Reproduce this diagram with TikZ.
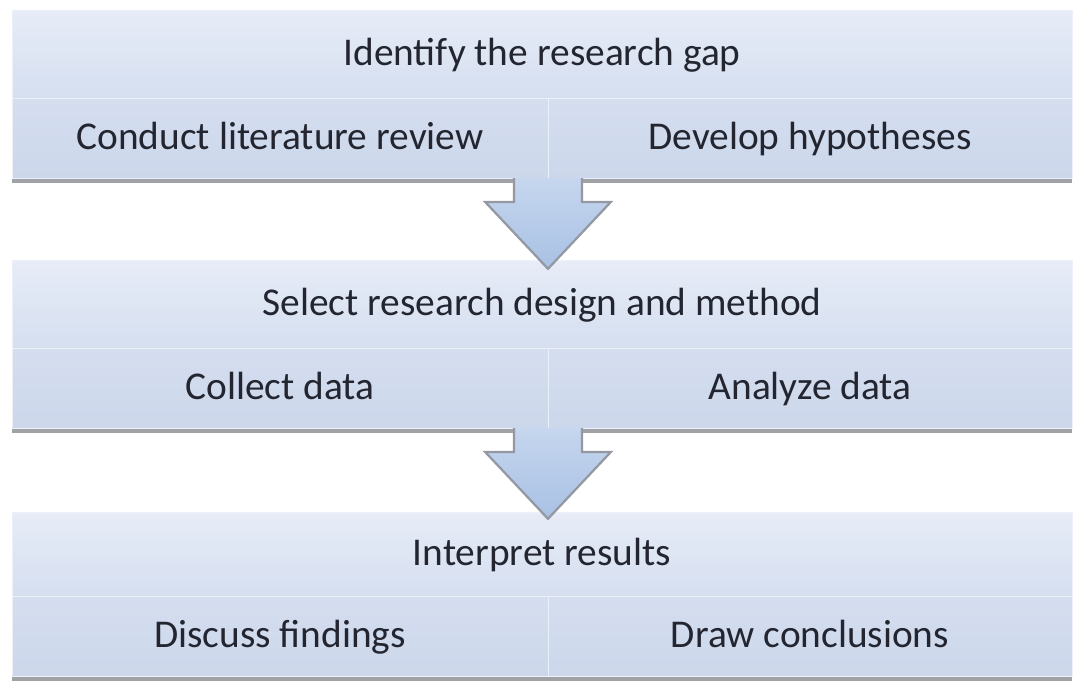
\documentclass[tikz,border=0pt]{standalone}
\usepackage{fontspec}
\setmainfont{Carlito}
\usetikzlibrary{positioning,calc,shadows}
\definecolor{rpTop}{RGB}{231,236,247}
\definecolor{rpMid}{RGB}{213,223,240}
\definecolor{rpSubTop}{RGB}{212,222,239}
\definecolor{rpSubBot}{RGB}{204,215,235}
\definecolor{rpEdge}{RGB}{236,240,248}
\definecolor{rpText}{RGB}{35,38,48}
\definecolor{rpShadow}{RGB}{150,152,156}
\definecolor{rpArrowTop}{RGB}{198,214,238}
\definecolor{rpArrowBot}{RGB}{168,193,228}
\definecolor{rpArrowEdge}{RGB}{148,152,162}
\newcommand\stagefont{\fontsize{28}{34}\selectfont}

\begin{document}
\begin{tikzpicture}[
    stage/.style={rectangle, draw=rpEdge, line width=0.6pt, top color=rpTop, bottom color=rpMid, text=rpText, font=\stagefont, text height=21pt, text depth=4pt, inner sep=0pt, outer sep=0pt, minimum width=26.5cm, minimum height=2.2cm},
    task/.style={rectangle, draw=rpEdge, line width=0.6pt, top color=rpSubTop, bottom color=rpSubBot, text=rpText, font=\stagefont, text height=21pt, text depth=4pt, inner sep=0pt, outer sep=0pt, minimum height=2cm, drop shadow={shadow xshift=0pt, shadow yshift=-3.5pt, fill=rpShadow, opacity=0.9}},
    flow/.style={draw=rpArrowEdge, line width=1.6pt, line join=miter, top color=rpArrowTop, bottom color=rpArrowBot}
]
  \useasboundingbox (0,0) rectangle (27.025,-17);

  % stage 1
  \node[stage, anchor=north west] (gap) at (0.3,-0.25) {Identify the research gap};
  \node[task, minimum width=13.4cm, anchor=north west] (review) at (gap.south west) {Conduct literature review};
  \node[task, minimum width=13.1cm, anchor=north west] (hypo) at (review.north east) {Develop hypotheses};

  % stage 2
  \node[stage, below=2.05cm of review.south west, anchor=north west] (design) {Select research design and method};
  \node[task, minimum width=13.4cm, anchor=north west] (collect) at (design.south west) {Collect data};
  \node[task, minimum width=13.1cm, anchor=north west] (analyze) at (collect.north east) {Analyze data};

  % stage 3
  \node[stage, minimum height=2.1cm, below=2.1cm of collect.south west, anchor=north west] (interpret) {Interpret results};
  \node[task, minimum width=13.4cm, anchor=north west] (discuss) at (interpret.south west) {Discuss findings};
  \node[task, minimum width=13.1cm, anchor=north west] (conclude) at (discuss.north east) {Draw conclusions};

  % block arrows between the stages
  \draw[flow] ($(review.south east)+(-0.85,0)$) -- ++(0,-0.6) -- ++(-0.72,0) -- ++(1.57,-1.67) -- ++(1.57,1.67) -- ++(-0.72,0) -- ++(0,0.6);
  \draw[flow] ($(collect.south east)+(-0.85,0)$) -- ++(0,-0.6) -- ++(-0.72,0) -- ++(1.57,-1.67) -- ++(1.57,1.67) -- ++(-0.72,0) -- ++(0,0.6);
\end{tikzpicture}
\end{document}
